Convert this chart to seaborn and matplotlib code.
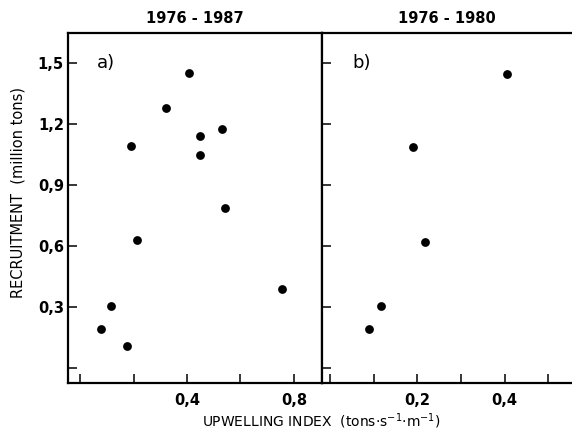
import matplotlib
matplotlib.use("Agg")
import matplotlib.pyplot as plt
import seaborn as sns
import pandas as pd

# upwelling index vs recruitment
upw_all = [0.08, 0.115, 0.177, 0.19, 0.213, 0.32, 0.407, 0.45, 0.45, 0.532, 0.543, 0.754]
rec_all = [0.19, 0.305, 0.11, 1.09, 0.63, 1.275, 1.45, 1.14, 1.045, 1.175, 0.785, 0.39]

upw_early = [0.09, 0.118, 0.19, 0.218, 0.406]
rec_early = [0.19, 0.305, 1.085, 0.62, 1.445]

y_ticks = [0, 0.3, 0.6, 0.9, 1.2, 1.5]
y_labels = ["", "0,3", "0,6", "0,9", "1,2", "1,5"]
xa_ticks = [0, 0.2, 0.4, 0.6, 0.8]
xa_labels = ["", "", "0,4", "", "0,8"]
xb_ticks = [0, 0.1, 0.2, 0.3, 0.4, 0.5]
xb_labels = ["", "", "0,2", "", "0,4", ""]

sns.set_style("ticks", {"axes.edgecolor": "black", "text.color": "black",
                        "xtick.color": "black", "ytick.color": "black",
                        "axes.labelcolor": "black"})
plt.rcParams['font.family'] = ['DejaVu Sans']

df_a = pd.DataFrame({"upw": upw_all, "rec": rec_all})
df_b = pd.DataFrame({"upw": upw_early, "rec": rec_early})

fig = plt.figure(figsize=(5.72, 4.32), dpi=100)
ax1 = fig.add_axes([68/572, 49/432, 254/572, 350/432])
ax2 = fig.add_axes([322/572, 49/432, 250/572, 350/432])

sns.scatterplot(data=df_a, x="upw", y="rec", ax=ax1, color="black", s=40, edgecolor="black", linewidth=0)
sns.scatterplot(data=df_b, x="upw", y="rec", ax=ax2, color="black", s=40, edgecolor="black", linewidth=0)

ax1.set_xlim(-0.045, 0.905)
ax2.set_xlim(-0.018, 0.554)
for ax in (ax1, ax2):
    ax.set_ylim(-0.074, 1.646)
    ax.set_xlabel("")
    ax.set_ylabel("")
    ax.set_yticks(y_ticks)
    ax.tick_params(direction="in", length=6.5, width=1.1, labelsize=10.5, pad=3,
                   colors="black")
    for sp in ax.spines.values():
        sp.set_linewidth(1.6)
        sp.set_color("black")

ax1.set_yticklabels(y_labels, fontweight="bold")
ax1.set_xticks(xa_ticks)
ax1.set_xticklabels(xa_labels, fontweight="bold")
ax1.tick_params(axis="x", pad=7)

ax2.set_yticklabels([])
ax2.set_xticks(xb_ticks)
ax2.set_xticklabels(xb_labels, fontweight="bold")
ax2.tick_params(axis="x", pad=7)
ax2.spines["right"].set_visible(False)

ax1.set_title("1976 - 1987", fontsize=10.5, fontweight="bold", pad=7, color="black")
ax2.set_title("1976 - 1980", fontsize=10.5, fontweight="bold", pad=7, color="black")

ax1.text(0.115, 0.915, "a)", transform=ax1.transAxes, fontsize=13, va="center")
ax2.text(0.12, 0.915, "b)", transform=ax2.transAxes, fontsize=13, va="center")

fig.text(18/572, 1 - 192/432, "RECRUITMENT  (million tons)", rotation=90,
         ha="center", va="center", fontsize=10.5)
fig.text(321/572, 1 - 421/432, r"UPWELLING INDEX  (tons$\cdot$s$^{-1}$$\cdot$m$^{-1}$)",
         ha="center", va="center", fontsize=10)

fig.savefig("out.png", dpi=100)
